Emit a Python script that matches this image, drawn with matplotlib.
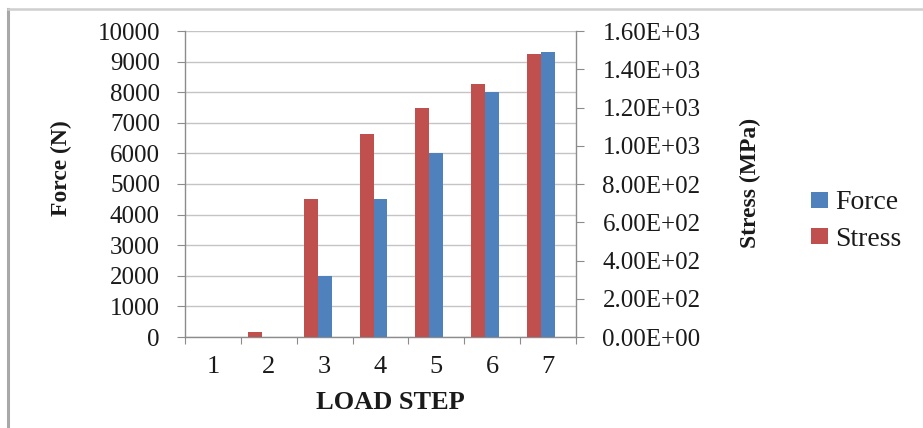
import matplotlib
matplotlib.use("Agg")
import matplotlib.pyplot as plt
from matplotlib.lines import Line2D
from matplotlib.patches import Patch
import numpy as np

# Data per load step
load_steps = [1, 2, 3, 4, 5, 6, 7]
force_n = [0, 0, 2000, 4500, 6000, 8000, 9300]          # left axis
stress_mpa = [0, 25, 720, 1060, 1200, 1325, 1480]       # right axis
force_ticks = list(range(0, 10001, 1000))
stress_ticks = list(range(0, 1601, 200))

BLUE = "#4F81BD"
RED = "#C0504D"
AXIS_GRAY = "#8c8c8c"
GRID_GRAY = "#c4c4c4"
TEXT = "#1a1a1a"

plt.rcParams["font.family"] = ["Liberation Serif", "DejaVu Serif"]

W, H = 923, 428
fig = plt.figure(figsize=(W / 100, H / 100), dpi=100)

# chart frame (top and left edges of the surrounding box)
fig.add_artist(Line2D([8 / W, 8 / W], [0, 1 - 9 / H], transform=fig.transFigure,
                      color="#a8a8a8", lw=2.2))
fig.add_artist(Line2D([8 / W, 1], [1 - 9 / H, 1 - 9 / H], transform=fig.transFigure,
                      color="#cfcfcf", lw=1.8))

left, right, top, bottom = 185, 576, 31, 337
ax = fig.add_axes([left / W, 1 - bottom / H, (right - left) / W, (bottom - top) / H])
ax2 = ax.twinx()

x = np.array(load_steps, dtype=float)
bw = 0.25
ax.bar(x, force_n, width=bw, color=BLUE, zorder=3, label="Force")
ax2.bar(x - bw, stress_mpa, width=bw, color=RED, zorder=3, label="Stress")

ax.set_xlim(0.5, 7.5)
ax.set_ylim(0, 10000)
ax2.set_ylim(0, 1600)

ax.set_yticks(force_ticks)
ax.set_yticklabels([str(v) for v in force_ticks])
ax2.set_yticks(stress_ticks)
ax2.set_yticklabels(["{:.2E}".format(v) for v in stress_ticks])

# category ticks sit on the boundaries, labels at the centers
ax.set_xticks(np.arange(0.5, 7.6, 1.0))
ax.set_xticklabels([])
ax.set_xticks(x, minor=True)
ax.set_xticklabels([str(s) for s in load_steps], minor=True)
ax.tick_params(axis="x", which="major", length=5, color=AXIS_GRAY, direction="out")
ax.tick_params(axis="x", which="minor", length=0, pad=14, labelsize=19, labelcolor=TEXT)

ax.yaxis.grid(True, color=GRID_GRAY, lw=1.0, zorder=0)
ax.set_axisbelow(True)

ax.tick_params(axis="y", length=6, color=AXIS_GRAY, pad=12, labelsize=18, labelcolor=TEXT)
ax2.tick_params(axis="y", length=6, color=AXIS_GRAY, pad=13, labelsize=18, labelcolor=TEXT)

for a in (ax, ax2):
    a.spines["top"].set_visible(False)
    for s in ("left", "right", "bottom"):
        a.spines[s].set_color(AXIS_GRAY)
        a.spines[s].set_linewidth(1.0)
ax.spines["right"].set_visible(False)
ax2.spines["left"].set_visible(False)
ax2.spines["bottom"].set_visible(False)

ax.set_xlabel("LOAD STEP", fontsize=19, fontweight="bold", color=TEXT)
ax.xaxis.set_label_coords((390 - left) / (right - left), 1 - (391 - top) / (bottom - top))
ax.set_ylabel("Force (N)", fontsize=17, fontweight="bold", color=TEXT)
ax.yaxis.set_label_coords((72 - left) / (right - left), 1 - (168 - top) / (bottom - top))
ax2.set_ylabel("Stress (MPa)", fontsize=17, fontweight="bold", color=TEXT, rotation=90)
ax2.yaxis.set_label_coords((740 - left) / (right - left), 1 - (183 - top) / (bottom - top))

handles = [Patch(facecolor=BLUE, label="Force"), Patch(facecolor=RED, label="Stress")]
fig.legend(handles=handles, loc="center left", bbox_to_anchor=(800 / W, 1 - 221 / H),
           frameon=False, fontsize=20, handlelength=0.6, handleheight=0.5,
           handletextpad=0.25, labelspacing=0.4, borderaxespad=0, labelcolor=TEXT)

fig.savefig("out.png", dpi=100)
